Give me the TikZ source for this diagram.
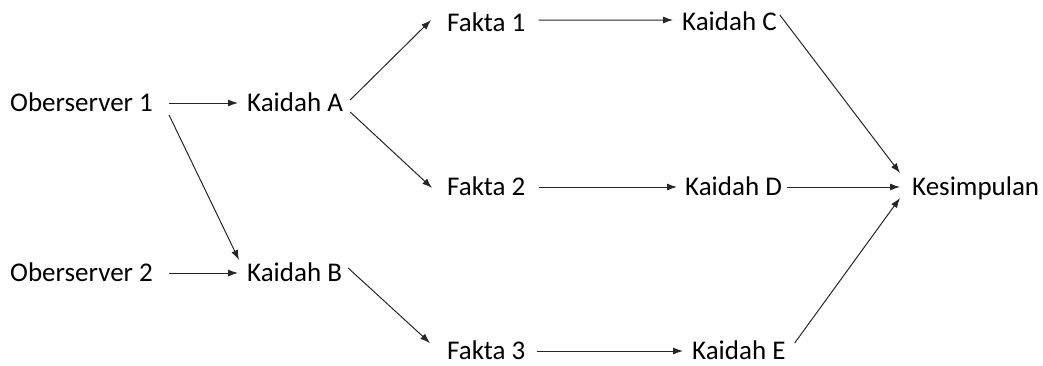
\documentclass[tikz,border=0pt]{standalone}
\usepackage{fontspec}
\setmainfont{Carlito}
\usetikzlibrary{arrows.meta}
\begin{document}
\begin{tikzpicture}[x=1bp,y=-1bp,
  txt/.style={inner sep=0pt, anchor=west, text height=18bp, text depth=1bp, font=\fontsize{27bp}{32bp}\selectfont, text=black},
  arr/.style={draw=black!85, line width=1bp, -{Latex[length=10bp,width=7bp]}}]
\useasboundingbox (0,0) rectangle (1043,365);
\node[txt] (O1) at (10,103) {Oberserver 1};
\node[txt] (O2) at (10,273) {Oberserver 2};
\node[txt] (KA) at (247,103) {Kaidah A};
\node[txt] (KB) at (247,273) {Kaidah B};
\node[txt] (F1) at (447,23) {Fakta 1};
\node[txt] (F2) at (447,187) {Fakta 2};
\node[txt] (F3) at (447,351) {Fakta 3};
\node[txt] (KC) at (682,22) {Kaidah C};
\node[txt] (KD) at (685,187) {Kaidah D};
\node[txt] (KE) at (692,351) {Kaidah E};
\node[txt] (Kes) at (912,187) {Kesimpulan};
\draw[arr] ([xshift=16]O1.east) -- ([xshift=-9]KA.west);
\draw[arr] ([xshift=16,yshift=-12]O1.east) -- ([xshift=-8,yshift=13]KB.west);
\draw[arr] ([xshift=16]O2.east) -- ([xshift=-9]KB.west);
\draw[arr] ([xshift=7,yshift=3]KA.east) -- ([xshift=-16,yshift=3]F1.west);
\draw[arr] ([xshift=7,yshift=-9]KA.east) -- ([xshift=-15,yshift=-1]F2.west);
\draw[arr] ([xshift=6,yshift=5]KB.east) -- ([xshift=-17,yshift=8]F3.west);
\draw[arr] ([xshift=13,yshift=3]F1.east) -- ([xshift=-9,yshift=2]KC.west);
\draw[arr] ([xshift=13]F2.east) -- ([xshift=-8]KD.west);
\draw[arr] ([xshift=11]F3.east) -- ([xshift=-9]KE.west);
\draw[arr] ([xshift=3,yshift=7]KC.east) -- ([xshift=-12,yshift=14]Kes.west);
\draw[arr] ([xshift=5]KD.east) -- ([xshift=-12]Kes.west);
\draw[arr] ([xshift=9,yshift=8]KE.east) -- ([xshift=-12,yshift=-11]Kes.west);
\end{tikzpicture}
\end{document}
